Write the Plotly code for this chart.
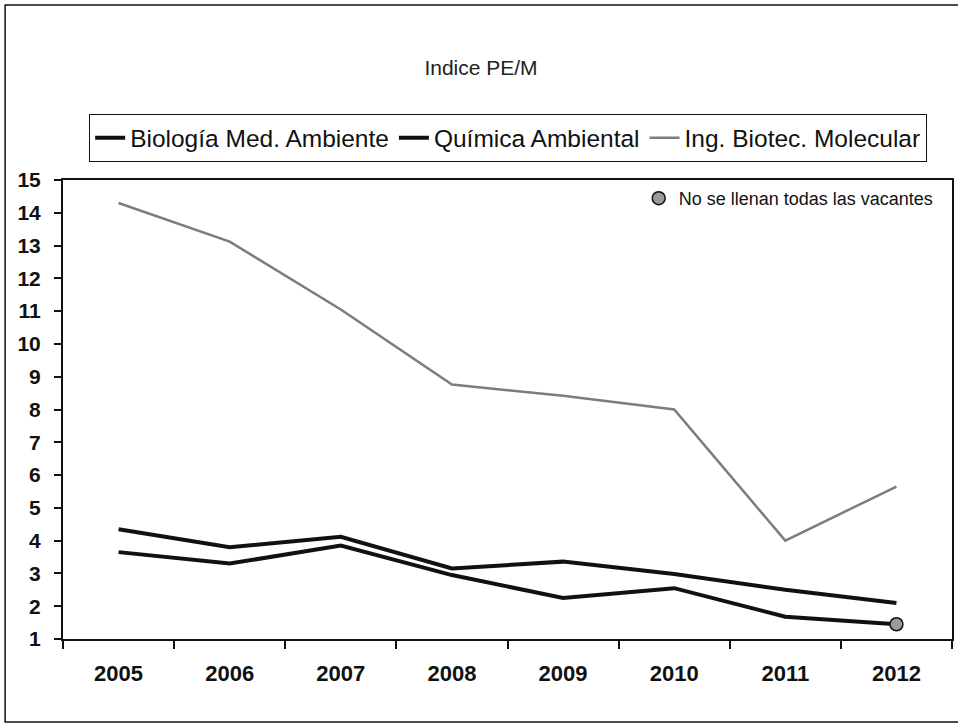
import plotly.graph_objects as go

years = ["2005", "2006", "2007", "2008", "2009", "2010", "2011", "2012"]
biologia = [4.35, 3.8, 4.12, 3.15, 3.36, 2.98, 2.5, 2.1]
quimica = [3.65, 3.3, 3.85, 2.95, 2.25, 2.55, 1.68, 1.45]
ing_biotec = [14.3, 13.12, 11.05, 8.76, 8.42, 8.0, 4.0, 5.65]

title_text = "Indice PE/M"
note_text = "No se llenan todas las vacantes"

W, H = 958, 723
L, R, T, B = 63, 4, 180, 84
pw, ph = W - L - R, H - T - B

def px(xp):
    return (xp - L) / pw

def py(yp):
    return (H - B - yp) / ph

fig = go.Figure()
fig.add_trace(go.Scatter(x=years, y=biologia, mode="lines", name="Biología Med. Ambiente",
                         line=dict(color="#111111", width=4)))
fig.add_trace(go.Scatter(x=years, y=quimica, mode="lines", name="Química Ambiental",
                         line=dict(color="#111111", width=4)))
fig.add_trace(go.Scatter(x=years, y=ing_biotec, mode="lines", name="Ing. Biotec. Molecular",
                         line=dict(color="#7d7d7d", width=2.5)))
fig.add_trace(go.Scatter(x=[years[-1]], y=[quimica[-1]], mode="markers", name=note_text,
                         marker=dict(symbol="circle", size=13, color="#9a9a9a",
                                     line=dict(color="#111111", width=1.5)),
                         legend="legend2"))

fig.update_layout(
    width=W, height=H,
    margin=dict(l=L, r=R, t=T, b=B),
    paper_bgcolor="white", plot_bgcolor="white",
    font=dict(family="Arial, Liberation Sans, sans-serif", color="#111111"),
    title=dict(text=title_text, x=481 / W, xref="container", xanchor="center",
               y=1 - 68 / H, yref="container", yanchor="middle",
               font=dict(size=21, color="#222222")),
    showlegend=True,
    legend=dict(orientation="h", x=px(89), xanchor="left", y=py(114), yanchor="top",
                bordercolor="#111111", borderwidth=1.2, bgcolor="white",
                font=dict(size=24.5), itemwidth=30, tracegroupgap=0),
    legend2=dict(x=px(640), xanchor="left", y=py(180), yanchor="top",
                 borderwidth=0, bgcolor="rgba(0,0,0,0)", font=dict(size=18)),
    xaxis=dict(type="category", range=[-0.5, 7.5], tickson="boundaries",
               ticks="outside", ticklen=8, tickwidth=1.5, tickcolor="#111111",
               showline=True, linecolor="#111111", linewidth=1.5, mirror=True,
               showgrid=False, zeroline=False, ticklabelstandoff=14,
               tickfont=dict(size=22, family="Arial, sans-serif", weight="bold")),
    yaxis=dict(range=[1, 15], dtick=1, tick0=1,
               ticks="outside", ticklen=7, tickwidth=1.5, tickcolor="#111111",
               showline=True, linecolor="#111111", linewidth=2, mirror=True,
               showgrid=False, zeroline=False, ticklabelstandoff=9,
               tickfont=dict(size=21, family="Arial, sans-serif", weight="bold")),
    shapes=[dict(type="rect", xref="paper", yref="paper",
                 x0=px(5), x1=px(962), y0=py(722), y1=py(5),
                 line=dict(color="#111111", width=1.5), layer="below")],
)

fig.write_html("out.html", config={"displayModeBar": False},
               post_script="document.body.style.margin='0';document.body.style.overflow='hidden';")
